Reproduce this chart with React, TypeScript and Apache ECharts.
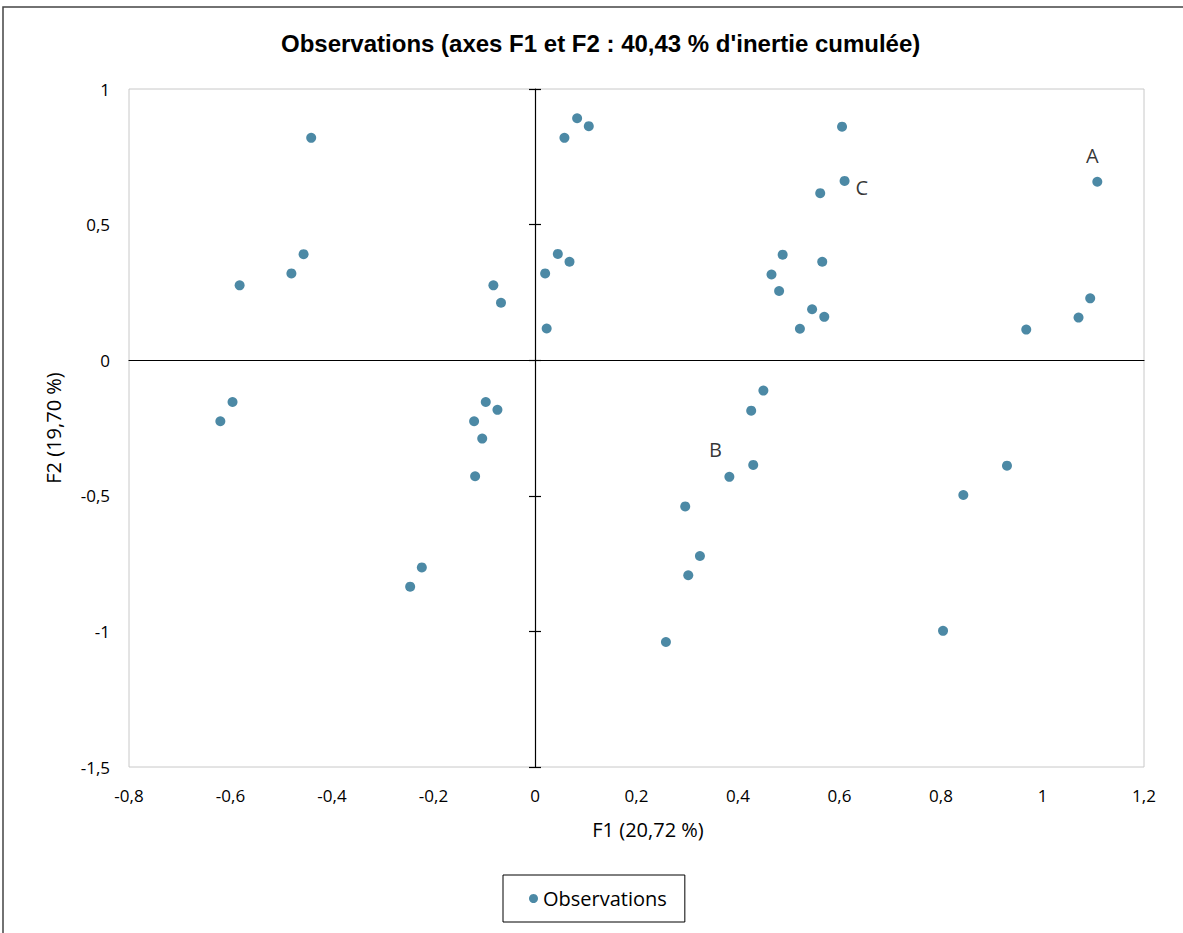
import React, { useEffect, useRef } from "react";
import * as echarts from "echarts";

// F1 coordinates of the observations
const f1Values = [
  -0.441, -0.456, -0.48, -0.582, -0.082, -0.067, 0.02, 0.023, 0.058, 0.083,
  0.106, 0.045, 0.068, 0.605, 0.61, 0.562, 0.488, 0.566, 0.466, 0.481,
  0.546, 0.57, 0.522, 1.108, 1.094, 1.071, 0.968, -0.596, -0.62, -0.097,
  -0.074, -0.12, -0.104, -0.118, -0.223, -0.246, 0.45, 0.426, 0.43, 0.383,
  0.296, 0.325, 0.302, 0.258, 0.93, 0.844, 0.804,
];
// F2 coordinates of the observations
const f2Values = [
  0.82, 0.391, 0.32, 0.276, 0.276, 0.212, 0.32, 0.117, 0.82, 0.892,
  0.863, 0.392, 0.363, 0.861, 0.661, 0.616, 0.389, 0.363, 0.316, 0.255,
  0.188, 0.16, 0.116, 0.658, 0.228, 0.157, 0.113, -0.154, -0.225, -0.154,
  -0.183, -0.225, -0.289, -0.428, -0.764, -0.835, -0.112, -0.186, -0.386, -0.43,
  -0.539, -0.722, -0.793, -1.039, -0.389, -0.497, -0.998,
];
// point labels (empty = no label)
const pointLabels = [
  "", "", "", "", "", "", "", "", "", "",
  "", "", "", "", "C", "", "", "", "", "",
  "", "", "", "A", "", "", "", "", "", "",
  "", "", "", "", "", "", "", "", "", "B",
  "", "", "", "", "", "", "",
];

const titleText = "Observations (axes F1 et F2 : 40,43 % d'inertie cumulée)";
const xName = "F1 (20,72 %)";
const yName = "F2 (19,70 %)";
const seriesName = "Observations";

const X_MIN = -0.8, X_MAX = 1.2, X_STEP = 0.2;
const Y_MIN = -1.5, Y_MAX = 1, Y_STEP = 0.5;

const FONT = "'Open Sans', 'Noto Sans', sans-serif";

const fmt = (v: number) => String(Math.round(v * 10) / 10).replace(".", ",");

const labelStyle: Record<string, any> = {
  A: { position: "top", offset: [-5, -6] },
  B: { position: "top", offset: [-14, -7] },
  C: { position: "right", offset: [1, 7] },
};

export default function App() {
  const ref = useRef<HTMLDivElement>(null);
  useEffect(() => {
    if (!ref.current) return;
    const chart = echarts.init(ref.current, null, { renderer: "svg" });
    const data = f1Values.map((x, i) => {
      const name = pointLabels[i];
      const item: any = { value: [x, f2Values[i]], name };
      if (name) {
        item.label = {
          show: true,
          formatter: name,
          fontFamily: FONT,
          fontSize: 20,
          color: "#000",
          ...labelStyle[name],
        };
      }
      return item;
    });
    const hiddenAxisBase = {
      type: "value" as const,
      axisLabel: { show: false },
      splitLine: { show: false },
    };
    chart.setOption({
      animation: false,
      backgroundColor: "#fff",
      title: {
        text: titleText,
        left: 276,
        top: 26,
        textStyle: {
          fontFamily: "'Liberation Sans', Arial, sans-serif",
          fontWeight: "bold",
          fontSize: 24,
          color: "#000",
        },
      },
      graphic: [
        {
          type: "rect",
          shape: { x: 3, y: 7, width: 1300, height: 1100 },
          style: { fill: "none", stroke: "#444", lineWidth: 1.5 },
          silent: true,
          z: -1,
        },
      ],
      legend: {
        left: 503,
        top: 875,
        borderColor: "#000",
        borderWidth: 1,
        padding: [10, 18, 10, 26],
        icon: "circle",
        itemWidth: 9,
        itemHeight: 9,
        textStyle: { fontFamily: FONT, fontSize: 20, color: "#000", lineHeight: 27 },
        data: [seriesName],
      },
      grid: {
        left: 129,
        top: 89,
        right: 39,
        bottom: 166,
        show: true,
        borderColor: "#c8c8c8",
        borderWidth: 1,
      },
      xAxis: [
        {
          type: "value",
          min: X_MIN,
          max: X_MAX,
          interval: X_STEP,
          position: "bottom",
          axisLine: { show: false, onZero: false },
          axisTick: { show: false },
          splitLine: { show: false },
          axisLabel: { formatter: fmt, fontFamily: FONT, fontSize: 17, color: "#000", margin: 20 },
          name: xName,
          nameLocation: "middle",
          nameGap: 52,
          nameTextStyle: { fontFamily: FONT, fontSize: 20, color: "#000", padding: [0, 0, 0, 23] },
        },
        {
          ...hiddenAxisBase,
          min: X_MIN,
          max: X_MAX,
          interval: X_STEP,
          position: "bottom",
          axisLine: { show: true, onZero: true, onZeroAxisIndex: 0, lineStyle: { color: "#000", width: 1.2 } },
          axisTick: { show: false },
        },
      ],
      yAxis: [
        {
          type: "value",
          min: Y_MIN,
          max: Y_MAX,
          interval: Y_STEP,
          position: "left",
          axisLine: { show: false, onZero: false },
          axisTick: { show: false },
          splitLine: { show: false },
          axisLabel: { formatter: fmt, fontFamily: FONT, fontSize: 17, color: "#000", margin: 19 },
          name: yName,
          nameLocation: "middle",
          nameGap: 66,
          nameTextStyle: { fontFamily: FONT, fontSize: 20, color: "#000" },
        },
        {
          ...hiddenAxisBase,
          min: Y_MIN,
          max: Y_MAX,
          interval: Y_STEP,
          position: "left",
          axisLine: { show: true, onZero: true, onZeroAxisIndex: 0, lineStyle: { color: "#000", width: 1.2 } },
          axisTick: { show: true, inside: false, length: 6, lineStyle: { color: "#000", width: 1.2 } },
        },
        {
          ...hiddenAxisBase,
          min: Y_MIN,
          max: Y_MAX,
          interval: Y_STEP,
          position: "left",
          axisLine: { show: false, onZero: true, onZeroAxisIndex: 0 },
          axisTick: { show: true, inside: true, length: 6, lineStyle: { color: "#000", width: 1.2 } },
        },
      ],
      series: [
        {
          name: seriesName,
          type: "scatter",
          xAxisIndex: 0,
          yAxisIndex: 0,
          symbol: "circle",
          symbolSize: 10,
          itemStyle: { color: "#1F6B8E" },
          data,
        },
      ],
    });
    return () => chart.dispose();
  }, []);
  return (
    <div
      ref={ref}
      style={{ position: "fixed", left: 0, top: 0, width: 1183, height: 933 }}
    />
  );
}
